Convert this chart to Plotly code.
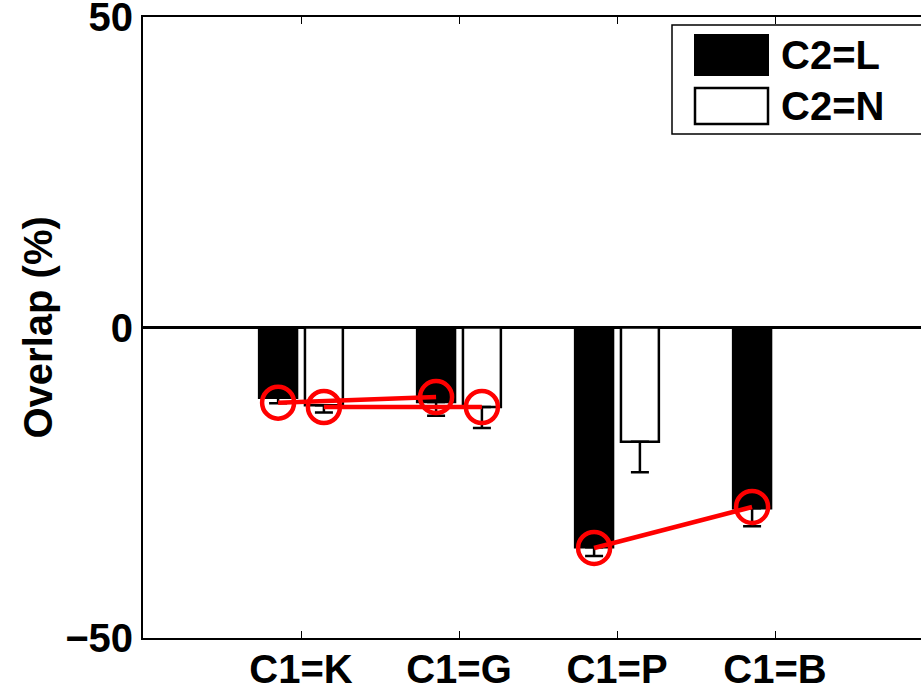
import plotly.graph_objects as go

categories = ["C1=K", "C1=G", "C1=P", "C1=B"]
series_names = ["C2=L", "C2=N"]
overlap_L = [-11.3, -12.0, -35.4, -29.1]
err_L = [0.9, 2.2, 1.4, 2.9]
overlap_N = [-12.5, -12.8, -18.4, 0.0]
err_N = [1.2, 3.4, 4.9, 0.0]
marker_L = [-12.1, -11.2, -35.5, -28.9]
marker_N = [-12.8, -12.8, None, None]
y_ticks = [-50, 0, 50]

idx = [i + 1 for i in range(len(categories))]
W = 0.24
OFF_L, OFF_N = -0.265, 0.025
C_L, C_N = OFF_L + W / 2, OFF_N + W / 2

FONT = dict(family="Liberation Sans, Arial, sans-serif", size=40, color="black", weight="bold")

fig = go.Figure()
fig.add_trace(go.Bar(
    x=idx, y=overlap_L, width=W, offset=OFF_L, name=series_names[0],
    marker=dict(color="black", line=dict(color="black", width=2.5)),
    error_y=dict(type="data", symmetric=False, array=[0] * 4, arrayminus=err_L,
                 color="black", thickness=2.5, width=9),
))
fig.add_trace(go.Bar(
    x=idx, y=overlap_N, width=W, offset=OFF_N, name=series_names[1],
    marker=dict(color="white", line=dict(color="black", width=2.5)),
    error_y=dict(type="data", symmetric=False, array=[0] * 4, arrayminus=err_N,
                 color="black", thickness=2.5, width=9),
))

red = dict(mode="lines+markers", line=dict(color="#ff0000", width=4.5),
           marker=dict(symbol="circle-open", size=32, color="#ff0000", line=dict(width=4.5)),
           showlegend=False, cliponaxis=False)
for a, b in [(0, 1), (2, 3)]:
    fig.add_trace(go.Scatter(x=[idx[a] + C_L, idx[b] + C_L], y=[marker_L[a], marker_L[b]], **red))
    if marker_N[a] is not None and marker_N[b] is not None:
        fig.add_trace(go.Scatter(x=[idx[a] + C_N, idx[b] + C_N], y=[marker_N[a], marker_N[b]], **red))

# legend drawn as shapes (paper coords)
def px(x): return (x - 143) / 778
def py(y): return (638 - y) / 621

shapes = [
    dict(type="rect", xref="paper", yref="paper", x0=px(672), x1=1.02, y0=py(134), y1=py(25),
         line=dict(color="black", width=1.5), fillcolor="white", layer="above"),
    dict(type="rect", xref="paper", yref="paper", x0=px(695), x1=px(768), y0=py(75), y1=py(35),
         line=dict(color="black", width=2), fillcolor="black", layer="above"),
    dict(type="rect", xref="paper", yref="paper", x0=px(695), x1=px(768), y0=py(124), y1=py(88),
         line=dict(color="black", width=2.5), fillcolor="white", layer="above"),
]
annotations = [
    dict(xref="paper", yref="paper", x=px(779), y=py(55), text=series_names[0], showarrow=False,
         xanchor="left", yanchor="middle", font=FONT),
    dict(xref="paper", yref="paper", x=px(779), y=py(106), text=series_names[1], showarrow=False,
         xanchor="left", yanchor="middle", font=FONT),
    dict(xref="paper", yref="paper", x=px(37), y=0.5, text="Overlap (%)", showarrow=False,
         textangle=-90, xanchor="center", yanchor="middle", font=FONT),
]

fig.update_layout(
    width=921, height=690,
    margin=dict(l=143, r=0, t=17, b=52, autoexpand=False),
    paper_bgcolor="white", plot_bgcolor="white",
    showlegend=False, barmode="overlay",
    shapes=shapes, annotations=annotations,
    font=FONT,
)
fig.update_xaxes(
    range=[0, 778 / 158], tickmode="array", tickvals=idx, ticktext=categories,
    showline=True, linecolor="black", linewidth=2, mirror="ticks", automargin=False,
    ticks="inside", ticklen=7, tickwidth=1, tickcolor="black", ticklabelstandoff=-5,
    showgrid=False, zeroline=False, tickfont=FONT,
)
fig.update_yaxes(
    range=[-50, 50], tickmode="array", tickvals=y_ticks, ticktext=["\u221250", "0", "50"],
    showline=True, linecolor="black", linewidth=2, mirror=False, automargin=False,
    ticks="inside", ticklen=7, tickwidth=1, tickcolor="black", ticklabeloverflow="allow",
    showgrid=False, zeroline=True, zerolinecolor="black", zerolinewidth=2.5, tickfont=FONT,
)
fig.write_html("out.html")
